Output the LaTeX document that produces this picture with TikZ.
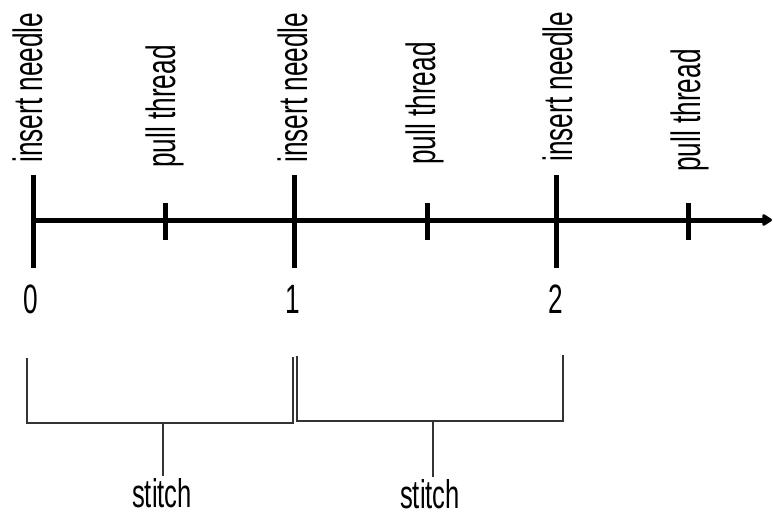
\documentclass[tikz,border=0pt]{standalone}
\usepackage{fontspec}
\setmainfont{Liberation Sans}[FakeStretch=0.64]
\usetikzlibrary{arrows.meta}
\begin{document}
\begin{tikzpicture}[x=1pt,y=-1pt,
  axisline/.style={line width=5pt,-{Triangle[length=11pt,width=13pt,round]}},
  bigtick/.style={line width=5pt},
  smalltick/.style={line width=5pt},
  bracket/.style={line width=1.6pt,draw=black!80},
  vlabel/.style={rotate=90,anchor=base west,inner sep=0pt,font=\fontsize{41}{41}\selectfont},
  numlabel/.style={anchor=base,inner sep=0pt,font=\fontsize{41}{41}\selectfont},
  stitchlabel/.style={anchor=base,inner sep=0pt,font=\fontsize{40}{40}\selectfont}
]
\useasboundingbox (0,0) rectangle (773,516);
% axis
\coordinate (start) at (33,220);
\coordinate (end) at (772,220);
\draw[axisline] (start) -- (end);
% big ticks
\foreach \n/\x in {a/33,b/294,c/556}{
  \coordinate (T\n top) at (\x,175);
  \coordinate (T\n bot) at (\x,268);
  \draw[bigtick] (T\n top) -- (T\n bot);
}
% small ticks
\foreach \n/\x in {a/165,b/427,c/688}{
  \coordinate (t\n top) at (\x,203);
  \coordinate (t\n bot) at (\x,240);
  \draw[smalltick] (t\n top) -- (t\n bot);
}
% labels
\node[vlabel] (in1) at (42,163) {insert needle};
\node[vlabel] (in2) at (307,163) {insert needle};
\node[vlabel] (in3) at (572,162) {insert needle};
\node[vlabel] (pt1) at (175,168) {pull thread};
\node[vlabel] (pt2) at (435,165) {pull thread};
\node[vlabel] (pt3) at (700,172) {pull thread};
% numbers
\node[numlabel] (n0) at (31,313) {0};
\node[numlabel] (n1) at (293,313) {1};
\node[numlabel] (n2) at (556,313) {2};
% brackets
\coordinate (b1l) at (27,358);
\coordinate (b1r) at (293,357);
\coordinate (b1m) at (163,423);
\draw[bracket] (b1l) |- (b1m) -| (b1r);
\coordinate (b2l) at (297,356);
\coordinate (b2r) at (563,355);
\coordinate (b2m) at (433,421);
\draw[bracket] (b2l) |- (b2m) -| (b2r);
\node[stitchlabel] (s1) at (162,507) {stitch};
\node[stitchlabel] (s2) at (430,508) {stitch};
\draw[bracket] (b1m) -- ([yshift=2pt]b1m |- s1.north);
\draw[bracket] (b2m) -- ([yshift=2pt]b2m |- s2.north);
\end{tikzpicture}
\end{document}
